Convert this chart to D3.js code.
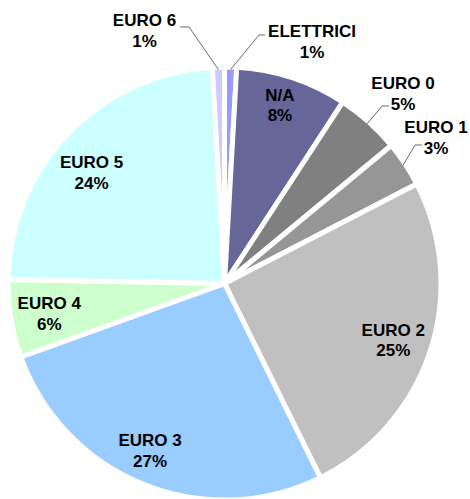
<!DOCTYPE html>
<html>
<head>
<meta charset="utf-8">
<script src="https://cdn.jsdelivr.net/npm/d3@7"></script>
<style>
  body { margin: 0; background: #fff; }
  text { font-family: "Liberation Sans", Arial, sans-serif; font-weight: bold; font-size: 17px; fill: #000; }
</style>
</head>
<body>
<div id="chart"></div>
<script>
let width = 470
let height = 499

// slices, clockwise from 12 o'clock
let categories = ["ELETTRICI", "N/A", "EURO 0", "EURO 1", "EURO 2", "EURO 3", "EURO 4", "EURO 5", "EURO 6"]
let shares = [0.9, 8.3, 4.8, 3.4, 25.3, 26.8, 5.8, 23.8, 0.9]
let colors = ["#9999ff", "#666699", "#808080", "#969696", "#c0c0c0", "#99ccff", "#ccffcc", "#ccffff", "#ccccff"]

// labels that sit outside the pie with a leader line
let outside = {
    "EURO 6": { x: 144.5, y: 26, leader: [[180, 27], [189, 27]] },
    "ELETTRICI": { x: 312, y: 37, leader: [[265, 35], [259, 35]] },
    "EURO 0": { x: 403, y: 89, leader: [[389, 106], [382, 106]] },
    "EURO 1": { x: 436, y: 133, leader: [[422, 145], [415, 145]] }
}
// small nudges for the inside labels
let nudge = {
    "N/A": [0, -11],
    "EURO 5": [-5, 11],
    "EURO 3": [-8, 1]
}

let cx = 224.5, cy = 283.5
let radius = 214
let gap = 5

let data = categories.map((c, i) => ({ name: c, value: shares[i], color: colors[i] }))

let svg = d3.select("#chart")
    .append("svg")
    .attr("width", width)
    .attr("height", height)

let g = svg.append("g")
    .attr("transform", "translate(" + cx + "," + cy + ")")

let pie = d3.pie().sort(null).value(d => d.value)
let arcs = pie(data)

let arc = d3.arc().innerRadius(0).outerRadius(radius + gap / 2)
let edgeArc = d3.arc().innerRadius(radius).outerRadius(radius)
let labelArc = d3.arc().innerRadius(radius * 0.83).outerRadius(radius * 0.83)

g.selectAll("path.slice")
    .data(arcs)
    .enter()
    .append("path")
    .attr("class", "slice")
    .attr("d", arc)
    .attr("fill", d => d.data.color)
    .attr("stroke", "#fff")
    .attr("stroke-width", gap)
    .attr("stroke-linejoin", "round")

let line = d3.line()

arcs.forEach(function (d) {
    let pct = Math.round(d.data.value) + "%"
    let o = outside[d.data.name]
    let x, y
    if (o) {
        let e = edgeArc.centroid(d)
        let pts = o.leader.map(p => [p[0] - cx, p[1] - cy]).concat([e])
        g.append("path")
            .attr("d", line(pts))
            .attr("fill", "none")
            .attr("stroke", "#6b6b6b")
            .attr("stroke-width", 1)
        x = o.x - cx
        y = o.y - cy
    } else {
        let c = labelArc.centroid(d)
        let n = nudge[d.data.name] || [0, 0]
        x = c[0] + n[0]
        y = c[1] - 3 + n[1]
    }
    let t = g.append("text").attr("text-anchor", "middle")
    t.append("tspan").attr("x", x).attr("y", y).text(d.data.name)
    t.append("tspan").attr("x", x).attr("y", y + 20.5).text(pct)
})
</script>
</body>
</html>
